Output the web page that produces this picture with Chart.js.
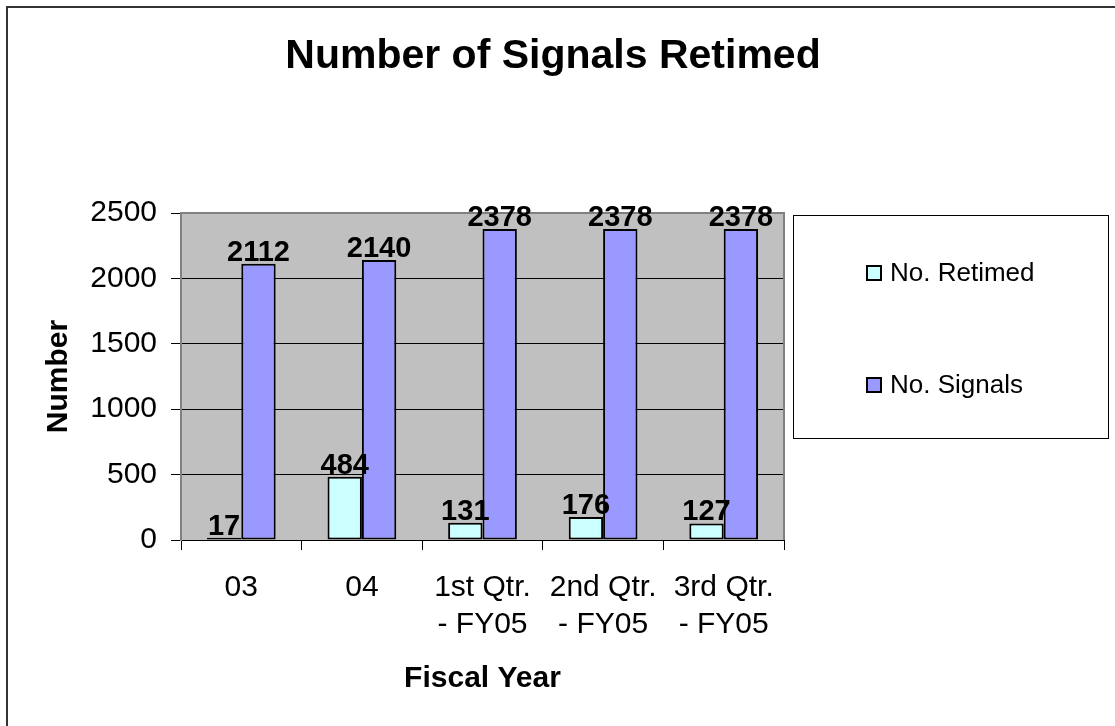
<!DOCTYPE html>
<html>
<head>
<meta charset="utf-8">
<script src="https://cdn.jsdelivr.net/npm/chart.js@4"></script>
<style>
  html, body { margin: 0; padding: 0; background: #fff; }
  #wrap { width: 1115px; height: 726px; }
</style>
</head>
<body>
<div id="wrap"><canvas id="chart" width="1115" height="726"></canvas></div>
<script>
// chart data
const categories = ["03", "04", ["1st Qtr.", "- FY05"], ["2nd Qtr.", "- FY05"], ["3rd Qtr.", "- FY05"]];
const retimed = [17, 484, 131, 176, 127];
const signals = [2112, 2140, 2378, 2378, 2378];
const yTicks = [0, 500, 1000, 1500, 2000, 2500];

const FONT = "'Liberation Sans', Arial, sans-serif";

// gray plot area + frame around the whole picture
const backdrop = {
  id: "backdrop",
  beforeDraw(chart) {
    const { ctx, chartArea: a } = chart;
    ctx.save();
    ctx.fillStyle = "#fff";
    ctx.fillRect(0, 0, chart.width, chart.height);
    ctx.fillStyle = "#c0c0c0";
    ctx.fillRect(a.left, a.top, a.right - a.left, a.bottom - a.top);
    ctx.strokeStyle = "#333";
    ctx.lineWidth = 2;
    ctx.strokeRect(7, 7, chart.width + 10, chart.height + 10);
    ctx.restore();
  },
  beforeDatasetsDraw(chart) {
    const { ctx, chartArea: a } = chart;
    ctx.save();
    ctx.strokeStyle = "#808080";
    ctx.lineWidth = 2;
    ctx.beginPath();
    ctx.moveTo(a.left, a.top);
    ctx.lineTo(a.right, a.top);
    ctx.lineTo(a.right, a.bottom);
    ctx.stroke();
    ctx.restore();
  }
};

// value labels above each bar
const barLabels = {
  id: "barLabels",
  afterDatasetsDraw(chart) {
    const ctx = chart.ctx;
    ctx.save();
    ctx.font = "bold 29px " + FONT;
    ctx.fillStyle = "#000";
    ctx.textAlign = "center";
    ctx.textBaseline = "alphabetic";
    chart.data.datasets.forEach((ds, i) => {
      chart.getDatasetMeta(i).data.forEach((bar, j) => {
        ctx.fillText(String(ds.data[j]), bar.x, bar.y - 3);
      });
    });
    ctx.restore();
  }
};

// title and boxed legend on the right, drawn like the spreadsheet original
const decorations = {
  id: "decorations",
  afterDraw(chart) {
    const ctx = chart.ctx;
    ctx.save();
    ctx.fillStyle = "#000";
    ctx.textAlign = "center";
    ctx.textBaseline = "middle";
    ctx.font = "bold 41px " + FONT;
    ctx.fillText("Number of Signals Retimed", 553, 57);

    // legend box
    ctx.strokeStyle = "#000";
    ctx.lineWidth = 1;
    ctx.strokeRect(793.5, 215.5, 315, 223);
    const rows = [273, 385];
    ctx.font = "26px " + FONT;
    ctx.textAlign = "left";
    chart.data.datasets.forEach((ds, i) => {
      const y = rows[i];
      ctx.fillStyle = ds.backgroundColor;
      ctx.fillRect(867, y - 7, 14, 14);
      ctx.lineWidth = 2;
      ctx.strokeStyle = "#000";
      ctx.strokeRect(867, y - 7, 14, 14);
      ctx.fillStyle = "#000";
      ctx.fillText(ds.label, 890, y + 1);
    });
    ctx.restore();
  }
};

new Chart(document.getElementById("chart"), {
  type: "bar",
  data: {
    labels: categories,
    datasets: [
      { label: "No. Retimed", data: retimed, backgroundColor: "#ccffff", borderColor: "#000", borderWidth: 2, borderSkipped: false },
      { label: "No. Signals", data: signals, backgroundColor: "#9999ff", borderColor: "#000", borderWidth: 2, borderSkipped: false }
    ]
  },
  options: {
    responsive: false,
    animation: false,
    categoryPercentage: 0.57,
    barPercentage: 1.0,
    layout: { padding: { left: 0, top: 213, right: 331, bottom: 0 } },
    plugins: {
      legend: { display: false },
      title: { display: false },
      tooltip: { enabled: false }
    },
    scales: {
      x: {
        afterFit(s) { s.height = 186; },
        grid: { offset: true, drawOnChartArea: false, drawTicks: true, tickLength: 10, color: "#000", lineWidth: 1 },
        border: { color: "#000", width: 1 },
        ticks: { color: "#000", font: { family: FONT, size: 30, lineHeight: 1.23 }, padding: 19, maxRotation: 0, autoSkip: false },
        title: { display: true, text: "Fiscal Year", color: "#000", font: { family: FONT, size: 30, weight: "bold" }, padding: { top: 0, bottom: 29 } }
      },
      y: {
        min: 0,
        max: 2500,
        afterFit(s) { s.width = 181; },
        afterBuildTicks(s) { s.ticks = yTicks.map(v => ({ value: v })); },
        grid: { color: "#000", lineWidth: 1, tickLength: 10 },
        border: { color: "#808080", width: 2 },
        ticks: { color: "#000", font: { family: FONT, size: 30 }, padding: 14, callback: v => String(v) },
        title: { display: true, text: "Number", color: "#000", font: { family: FONT, size: 30, weight: "bold" }, padding: { top: 41, bottom: 0 } }
      }
    }
  },
  plugins: [backdrop, barLabels, decorations]
});
</script>
</body>
</html>
